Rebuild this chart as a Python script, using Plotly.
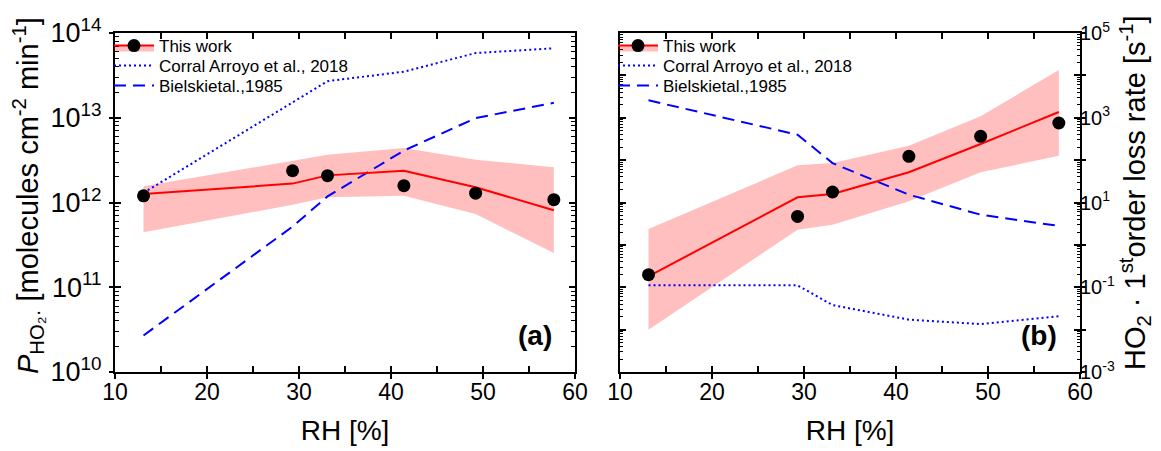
import plotly.graph_objects as go

# ---------------- data ----------------
rh = [13.1, 29.3, 33.1, 41.4, 49.2, 57.7]

# panel (a): P_HO2 production [molecules cm-2 min-1]
a_meas = [1.20e12, 2.37e12, 2.07e12, 1.58e12, 1.29e12, 1.08e12]
a_model = [1.26e12, 1.67e12, 2.09e12, 2.37e12, 1.51e12, 8.1e11]
a_upper = [1.55e12, 3.06e12, 3.66e12, 4.40e12, 3.20e12, 2.60e12]
a_lower = [4.45e11, 9.4e11, 1.15e12, 1.20e12, 7.3e11, 2.54e11]
a_corral = [1.3e12, 1.5e13, 2.7e13, 3.5e13, 5.8e13, 6.6e13]
a_bielski = [2.7e10, 5.2e11, 1.18e12, 4.1e12, 9.9e12, 1.5e13]

# panel (b): HO2 first-order loss rate [s-1]
b_meas = [0.198, 4.7, 17.7, 123, 365, 751]
b_model = [0.181, 13.3, 15.8, 51.6, 240, 1368]
b_upper = [2.37, 75.5, 85.5, 219, 1081, 13400]
b_lower = [0.010, 2.28, 2.99, 10.7, 51.6, 127]
b_corral = [0.111, 0.111, 0.038, 0.0172, 0.0135, 0.0206]
b_bielski = [2575, 398, 85, 15.3, 5.15, 2.8]

x_ticks = [10, 20, 30, 40, 50, 60]
a_exps = [10, 11, 12, 13, 14]
b_exps = [-3, -2, -1, 0, 1, 2, 3, 4, 5]

series_names = ["This work", "Corral Arroyo et al., 2018", "Bielskietal.,1985"]
y_title_a = "<i>P</i><sub>HO₂·</sub> [molecules cm<sup>-2</sup> min<sup>-1</sup>]"
y_title_b = "HO<sub>2</sub> · 1<sup>st</sup>order loss rate [s<sup>-1</sup>]"

# ---------------- style ----------------
FONT = "Liberation Sans, Arial, sans-serif"
RED = "#FF0000"
PINK = "rgba(255,0,0,0.25)"
BLUE = "#0000FF"
W, H = 1161, 451

fig = go.Figure()


def add_panel(xa, ya, meas, model, upper, lower, corral, bielski, legends):
    # uncertainty band
    fig.add_trace(go.Scatter(
        x=rh + rh[::-1], y=upper + lower[::-1], fill="toself",
        fillcolor=PINK, line=dict(width=0), mode="lines",
        hoverinfo="skip", showlegend=False, xaxis=xa, yaxis=ya))
    # literature curves
    fig.add_trace(go.Scatter(
        x=rh, y=corral, mode="lines", name=series_names[1],
        line=dict(color=BLUE, width=2, dash="2px,3px"),
        xaxis=xa, yaxis=ya, legend=legends[1]))
    fig.add_trace(go.Scatter(
        x=rh, y=bielski, mode="lines", name=series_names[2],
        line=dict(color=BLUE, width=2, dash="12px,7px"),
        xaxis=xa, yaxis=ya, legend=legends[2]))
    # model line
    fig.add_trace(go.Scatter(
        x=rh, y=model, mode="lines", line=dict(color=RED, width=2),
        showlegend=False, xaxis=xa, yaxis=ya))
    # measurements
    fig.add_trace(go.Scatter(
        x=rh, y=meas, mode="markers",
        marker=dict(color="black", size=13, symbol="circle"),
        showlegend=False, xaxis=xa, yaxis=ya))
    # legend-only entry combining band, line and marker
    fig.add_trace(go.Scatter(
        x=[None], y=[None], mode="lines+markers", name=series_names[0],
        line=dict(color=RED, width=2), fill="toself", fillcolor=PINK,
        marker=dict(color="black", size=13),
        xaxis=xa, yaxis=ya, legend=legends[0]))


add_panel("x", "y", a_meas, a_model, a_upper, a_lower, a_corral, a_bielski,
          ["legend", "legend3", "legend4"])
add_panel("x2", "y2", b_meas, b_model, b_upper, b_lower, b_corral, b_bielski,
          ["legend2", "legend5", "legend6"])

# dummy traces so that the "outward tick" overlay axes are drawn
for xa, ya in (("x3", "y3"), ("x4", "y4")):
    fig.add_trace(go.Scatter(x=[None], y=[None], xaxis=xa, yaxis=ya,
                             showlegend=False, hoverinfo="skip"))

# ---------------- geometry ----------------
xa_dom = [107 / W, 567 / W]
xb_dom = [612 / W, 1072 / W]
y_dom = [1 - 364 / H, 1 - 25 / H]


def minor_log(exps):
    vals = []
    for e in exps[:-1]:
        for k in range(2, 10):
            vals.append(k * 10 ** e)
    return vals


xtickfont = dict(family=FONT, size=23, color="black")
ytickfont_a = dict(family=FONT, size=27, color="black")
ytickfont_b = dict(family=FONT, size=20, color="black")
titlefont = dict(family=FONT, size=28, color="black")
ytitlefont = dict(family=FONT, size=29, color="black")

common_x = dict(range=[10, 60], tickvals=x_ticks, ticktext=[str(v) for v in x_ticks],
                ticks="inside", ticklen=6, tickwidth=1.5, tickcolor="black",
                minor=dict(dtick=5, tick0=0, ticks="inside", ticklen=6, tickwidth=1.5,
                           tickcolor="black", showgrid=False),
                showline=True, linewidth=2, linecolor="black", mirror="allticks",
                showgrid=False, zeroline=False, tickfont=xtickfont, automargin=False,
                title=dict(text="RH [%]", font=titlefont, standoff=17),
                ticklabelstandoff=-2)

overlay_common = dict(tickcolor="black", tickwidth=1.5, showticklabels=False,
                      showline=False, showgrid=False, zeroline=False, automargin=False)


def legend_at(xpx, row_px):
    return dict(x=xpx / W, y=1 - (row_px - 25) / H, xanchor="left", yanchor="top",
                bgcolor="rgba(0,0,0,0)", font=dict(family=FONT, size=17, color="black"),
                itemwidth=40, tracegroupgap=0)


fig.update_layout(
    width=W, height=H, margin=dict(l=0, r=0, t=0, b=0, autoexpand=False),
    paper_bgcolor="white", plot_bgcolor="white",
    font=dict(family=FONT, color="black"),
    xaxis=dict(domain=xa_dom, anchor="y", **common_x),
    xaxis2=dict(domain=xb_dom, anchor="y2", **common_x),
    yaxis=dict(domain=y_dom, anchor="x", type="log", range=[10, 14],
               tickvals=[10 ** e for e in a_exps],
               ticktext=["10<sup>%d</sup>" % e for e in a_exps],
               ticks="inside", ticklen=6, tickwidth=1.5, tickcolor="black",
               minor=dict(tickvals=minor_log(a_exps), ticks="inside", ticklen=4,
                          tickwidth=1.2, tickcolor="black", showgrid=False),
               showline=True, linewidth=2, linecolor="black", mirror="allticks",
               showgrid=False, zeroline=False, tickfont=ytickfont_a, automargin=False,
               ticklabelstandoff=6),
    yaxis2=dict(domain=y_dom, anchor="x2", side="right", type="log", range=[-3, 5],
                tickvals=[10 ** e for e in b_exps],
                ticktext=[("10<sup>%d</sup>" % e) if e % 2 else "" for e in b_exps],
                ticks="inside", ticklen=6, tickwidth=1.5, tickcolor="black",
                minor=dict(tickvals=minor_log(b_exps), ticks="inside", ticklen=3,
                           tickwidth=1.2, tickcolor="black", showgrid=False),
                showline=True, linewidth=2, linecolor="black", mirror="allticks",
                showgrid=False, zeroline=False, tickfont=ytickfont_b, automargin=False,
                ticklabelstandoff=-6),
    # overlay axes providing the outward half of the major ticks
    xaxis3=dict(domain=xa_dom, overlaying="x", anchor="y", range=[10, 60],
                tickvals=x_ticks, ticks="outside", ticklen=6, **overlay_common),
    yaxis3=dict(domain=y_dom, overlaying="y", anchor="x", type="log", range=[10, 14],
                tickvals=[10 ** e for e in a_exps], ticks="outside", ticklen=5,
                **overlay_common),
    xaxis4=dict(domain=xb_dom, overlaying="x2", anchor="y2", range=[10, 60],
                tickvals=x_ticks, ticks="outside", ticklen=6, **overlay_common),
    yaxis4=dict(domain=y_dom, overlaying="y2", anchor="x2", side="right", type="log",
                range=[-3, 5], tickvals=[10 ** e for e in b_exps], ticks="outside",
                ticklen=5, **overlay_common),
    legend=legend_at(101, 45),
    legend3=legend_at(101, 65),
    legend4=legend_at(101, 85),
    legend2=legend_at(605, 45),
    legend5=legend_at(605, 65),
    legend6=legend_at(605, 85),
    showlegend=True,
    annotations=[
        # y-axis titles
        dict(text=y_title_a, xref="paper", yref="paper", x=20 / W, y=1 - 188 / H,
             xanchor="center", yanchor="middle", textangle=-90, showarrow=False,
             font=ytitlefont),
        dict(text=y_title_b, xref="paper", yref="paper", x=1127 / W, y=1 - 185 / H,
             xanchor="center", yanchor="middle", textangle=-90, showarrow=False,
             font=ytitlefont),
        # panel labels
        dict(text="<b>(a)</b>", xref="x domain", yref="y domain", x=0.955, y=0.055,
             xanchor="right", yanchor="bottom", showarrow=False,
             font=dict(family=FONT, size=28, color="black")),
        dict(text="<b>(b)</b>", xref="x2 domain", yref="y2 domain", x=0.955, y=0.055,
             xanchor="right", yanchor="bottom", showarrow=False,
             font=dict(family=FONT, size=28, color="black")),
    ],
)

fig.write_html("out.html")
